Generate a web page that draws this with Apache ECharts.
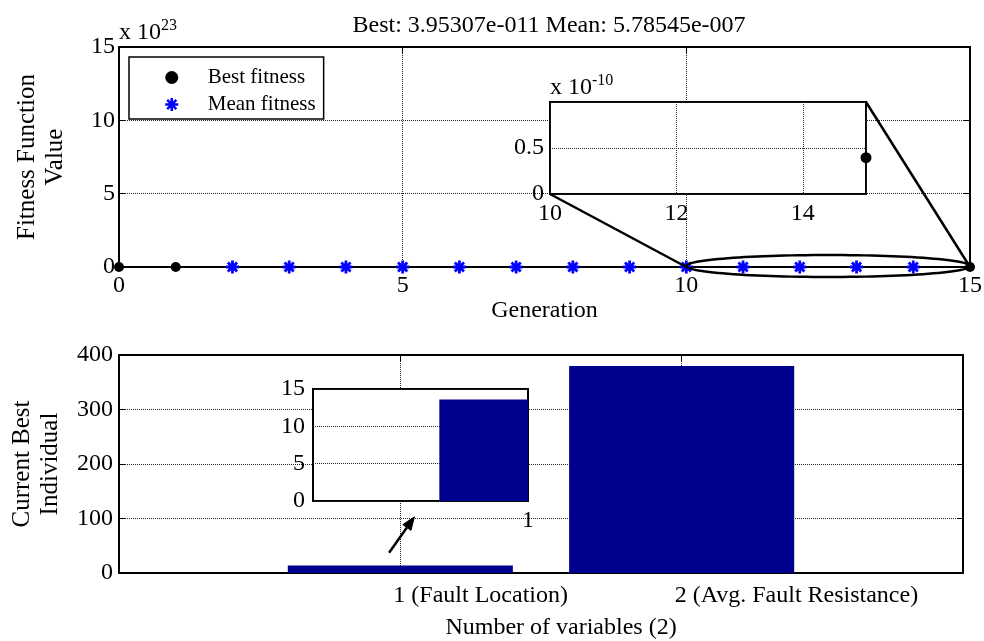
<!DOCTYPE html>
<html>
<head>
<meta charset="utf-8">
<script src="https://cdn.jsdelivr.net/npm/echarts@6/dist/echarts.min.js"></script>
<style>
html,body{margin:0;padding:0;background:#fff;}
#c{width:984px;height:641px;}
</style>
</head>
<body>
<div id="c"></div>
<script>
// ---------------- data ----------------
const titleText = 'Best: 3.95307e-011 Mean: 5.78545e-007';
const bestGenerations = [0, 1, 15];
const bestFitness = [0, 0, 3.95307e-11];
const meanGenerations = [2, 3, 4, 5, 6, 7, 8, 9, 10, 11, 12, 13, 14];
const meanFitness = [0, 0, 0, 0, 0, 0, 0, 0, 0, 0, 0, 0, 0];
const variableIndex = [1, 2];
const variableValues = [13.6, 380];
const variableLabels = ['1 (Fault Location)', '2 (Avg. Fault Resistance)'];

// ---------------- layout ----------------
const FONT = "'Liberation Serif','Times New Roman',serif";
const topGrid = {left: 119, top: 47, width: 851, height: 220};
const topInset = {left: 550, top: 102, width: 316, height: 92};
const botGrid = {left: 119, top: 355, width: 844, height: 218};
const botInset = {left: 313, top: 389, width: 215, height: 112};
const botInsetMin = 0.03;
const BAR_FRACTION = 0.8;
const BLUE_BAR = '#00008f';

const asterisk = 'path://M0,-10L0,10M-10,0L10,0M-7.07,-7.07L7.07,7.07M-7.07,7.07L7.07,-7.07';

function lbl(extra) {
  return Object.assign({color: '#000', fontFamily: FONT, fontSize: 24}, extra || {});
}
const gridDots = {show: true, lineStyle: {color: '#222', type: 'dotted', width: 1}};
function mainAxis(extra) {
  return Object.assign({
    type: 'value',
    axisLine: {show: true, onZero: false, lineStyle: {color: '#000', width: 2}},
    axisTick: {show: true, inside: true, length: 6, lineStyle: {color: '#000', width: 1}},
    splitLine: gridDots
  }, extra);
}
function mirrorAxis(extra) {
  return Object.assign({
    type: 'value',
    axisLine: {show: true, onZero: false, lineStyle: {color: '#000', width: 2}},
    axisTick: {show: true, inside: true, length: 6, lineStyle: {color: '#000', width: 1}},
    axisLabel: {show: false},
    splitLine: {show: false}
  }, extra);
}
function insetAxis(extra) {
  return Object.assign({
    type: 'value', z: 2,
    axisLine: {show: false}, axisTick: {show: false}
  }, extra);
}
const supRich = {sup: {fontFamily: FONT, fontSize: 16, color: '#000', padding: [0, 0, 14, 0]}};
const gridBase = {outerBoundsMode: 'none', containLabel: false};

const chart = echarts.init(document.getElementById('c'), null, {renderer: 'canvas'});

const insetPoints = bestGenerations
  .map((g, i) => [g, bestFitness[i]])
  .filter(p => p[0] >= 10 && p[0] <= 15 && p[1] <= 1e-10);

// bar drawn from (x - w/2) to (x + w/2), clipped to its grid
function clippedBar(params, api) {
  const x = api.value(0), y = api.value(1);
  const p0 = api.coord([x - BAR_FRACTION / 2, y]);
  const p1 = api.coord([x + BAR_FRACTION / 2, 0]);
  const cs = params.coordSys;
  const shape = echarts.graphic.clipRectByRect(
    {x: p0[0], y: p0[1], width: p1[0] - p0[0], height: p1[1] - p0[1]},
    {x: cs.x, y: cs.y, width: cs.width, height: cs.height});
  return shape ? {type: 'rect', shape: shape, style: {fill: BLUE_BAR}} : null;
}

const option = {
  backgroundColor: '#fff',
  animation: false,
  title: {
    text: titleText, left: 544, top: 9, textAlign: 'center',
    textStyle: {fontFamily: FONT, fontSize: 24, fontWeight: 'normal', color: '#000'}
  },
  legend: {
    data: [
      {name: 'Best fitness', itemStyle: {borderWidth: 0}},
      {name: 'Mean fitness', itemStyle: {borderWidth: 2.5}}
    ],
    orient: 'vertical', left: 129, top: 57,
    padding: [10, 8, 4, 35], itemWidth: 62, itemHeight: 13, itemGap: 6,
    borderColor: '#000', borderWidth: 1.5, backgroundColor: '#fff',
    textStyle: {fontFamily: FONT, fontSize: 21, color: '#000'},
    z: 5
  },
  grid: [
    Object.assign({}, gridBase, topGrid),
    Object.assign({}, gridBase, topInset, {show: true, backgroundColor: '#fff', borderColor: '#000', borderWidth: 2, z: 1}),
    Object.assign({}, gridBase, botGrid),
    Object.assign({}, gridBase, botInset, {show: true, backgroundColor: '#fff', borderColor: '#000', borderWidth: 2, z: 1})
  ],
  xAxis: [
    mainAxis({gridIndex: 0, min: 0, max: 15, interval: 5,
      axisLabel: lbl({margin: 7}),
      name: 'Generation', nameLocation: 'middle', nameGap: 31,
      nameTextStyle: lbl()}),
    mirrorAxis({gridIndex: 0, position: 'top', min: 0, max: 15, interval: 5}),
    insetAxis({gridIndex: 1, min: 10, max: 15, interval: 2,
      axisLabel: lbl({margin: 8, showMaxLabel: false}),
      splitLine: gridDots}),
    mainAxis({gridIndex: 2, min: 0, max: 3, interval: 1,
      axisLabel: lbl({margin: 11, align: 'left', padding: [0, 0, 0, -7],
        formatter: v => { const i = variableIndex.indexOf(v); return i >= 0 ? variableLabels[i] : ''; }}),
      name: 'Number of variables (2)', nameLocation: 'middle', nameGap: 43,
      nameTextStyle: lbl({padding: [0, 0, 0, 40]})}),
    mirrorAxis({gridIndex: 2, position: 'top', min: 0, max: 3, interval: 1}),
    insetAxis({gridIndex: 3, min: botInsetMin, max: 1,
      axisLabel: lbl({margin: 8, showMinLabel: false, showMaxLabel: true,
        formatter: v => (Math.abs(v - 1) < 1e-9 ? '1' : '')}),
      splitLine: {show: false}})
  ],
  yAxis: [
    mainAxis({gridIndex: 0, min: 0, max: 15e23, interval: 5e23,
      axisLabel: lbl({margin: 4, formatter: v => String(Math.round(v / 1e23))}),
      name: 'x 10{sup|23}', nameLocation: 'end', nameGap: -1, nameMoveOverlap: false,
      nameTextStyle: lbl({align: 'left', verticalAlign: 'bottom', rich: supRich})}),
    mirrorAxis({gridIndex: 0, position: 'right', min: 0, max: 15e23, interval: 5e23}),
    insetAxis({gridIndex: 1, min: 0, max: 1e-10, interval: 0.5e-10,
      axisLabel: lbl({margin: 6, showMaxLabel: false,
        formatter: v => String(Math.round(v / 1e-10 * 10) / 10)}),
      splitLine: gridDots,
      name: 'x 10{sup|-10}', nameLocation: 'end', nameGap: -1, nameMoveOverlap: false,
      nameTextStyle: lbl({align: 'left', verticalAlign: 'bottom', rich: supRich})}),
    mainAxis({gridIndex: 2, min: 0, max: 400, interval: 100,
      axisLabel: lbl({margin: 6}),
      name: 'Current Best\nIndividual', nameLocation: 'middle', nameGap: 55,
      nameTextStyle: lbl({fontSize: 25, lineHeight: 28})}),
    mirrorAxis({gridIndex: 2, position: 'right', min: 0, max: 400, interval: 100}),
    insetAxis({gridIndex: 3, min: 0, max: 15, interval: 5,
      axisLabel: lbl({margin: 8}),
      splitLine: gridDots}),
    // carrier of the top panel's y title
    {type: 'value', gridIndex: 0, position: 'left', min: 0, max: 15e23,
      axisLine: {show: false}, axisTick: {show: false}, axisLabel: {show: false}, splitLine: {show: false},
      name: 'Fitness Function\nValue', nameLocation: 'middle', nameGap: 50,
      nameTextStyle: lbl({fontSize: 25, lineHeight: 28})}
  ],
  series: [
    {name: 'Best fitness', type: 'scatter', xAxisIndex: 0, yAxisIndex: 0, clip: false,
      symbol: 'circle', symbolSize: 10, itemStyle: {color: '#000', opacity: 1},
      data: bestGenerations.map((g, i) => [g, bestFitness[i]]), z: 3},
    {name: 'Mean fitness', type: 'scatter', xAxisIndex: 0, yAxisIndex: 0, clip: false,
      symbol: asterisk, symbolSize: 13,
      itemStyle: {color: '#0000ff', borderColor: '#0000ff', borderWidth: 2.8, opacity: 1},
      data: meanGenerations.map((g, i) => [g, meanFitness[i]]), z: 3},
    {name: 'Best fitness (zoom)', type: 'scatter', xAxisIndex: 2, yAxisIndex: 2, clip: false,
      symbol: 'circle', symbolSize: 11, itemStyle: {color: '#000', opacity: 1},
      data: insetPoints, z: 4},
    {name: 'Current best', type: 'custom', coordinateSystem: 'cartesian2d',
      xAxisIndex: 3, yAxisIndex: 3, renderItem: clippedBar, encode: {x: 0, y: 1},
      data: variableIndex.map((x, i) => [x, variableValues[i]]), z: 2},
    {name: 'Current best (zoom)', type: 'custom', coordinateSystem: 'cartesian2d',
      xAxisIndex: 5, yAxisIndex: 5, renderItem: clippedBar, encode: {x: 0, y: 1},
      data: [[variableIndex[0], variableValues[0]]], z: 4}
  ]
};

chart.setOption(option);

// ---------------- annotations (zoom connectors, ellipse, arrow) ----------------
function px(xi, yi, pt) { return chart.convertToPixel({xAxisIndex: xi, yAxisIndex: yi}, pt); }
const a = px(2, 2, [10, 0]), b = px(0, 0, [10, 0]);
const c = px(2, 2, [15, 1e-10]), d = px(0, 0, [15, 0]);
const ecx = (b[0] + d[0]) / 2, ecy = b[1] - 1, erx = (d[0] - b[0]) / 2, ery = 11;
const ellipsePts = [];
for (let k = 0; k < 120; k++) {
  const t = k / 120 * Math.PI * 2;
  ellipsePts.push([ecx + erx * Math.cos(t), ecy + ery * Math.sin(t)]);
}
const tail = px(3, 3, [0.96, 37]), tip = px(3, 3, [1.05, 103]);
const dx = tip[0] - tail[0], dy = tip[1] - tail[1], L = Math.hypot(dx, dy);
const ux = dx / L, uy = dy / L, hl = 13, hw = 5;
const base = [tip[0] - ux * hl, tip[1] - uy * hl];
const head = [tip, [base[0] - uy * hw, base[1] + ux * hw], [base[0] + uy * hw, base[1] - ux * hw]];

chart.setOption({
  graphic: [
    {type: 'line', z: 20, shape: {x1: a[0], y1: a[1], x2: b[0], y2: b[1]}, style: {stroke: '#000', lineWidth: 2.5}},
    {type: 'line', z: 20, shape: {x1: c[0], y1: c[1], x2: d[0], y2: d[1]}, style: {stroke: '#000', lineWidth: 2.5}},
    {type: 'polygon', z: 20, shape: {points: ellipsePts}, style: {fill: 'none', stroke: '#000', lineWidth: 2.5}},
    {type: 'line', z: 20, shape: {x1: tail[0], y1: tail[1], x2: base[0], y2: base[1]}, style: {stroke: '#000', lineWidth: 2.5}},
    {type: 'polygon', z: 20, shape: {points: head}, style: {fill: '#000', stroke: '#000', lineWidth: 1}}
  ]
});
</script>
</body>
</html>
